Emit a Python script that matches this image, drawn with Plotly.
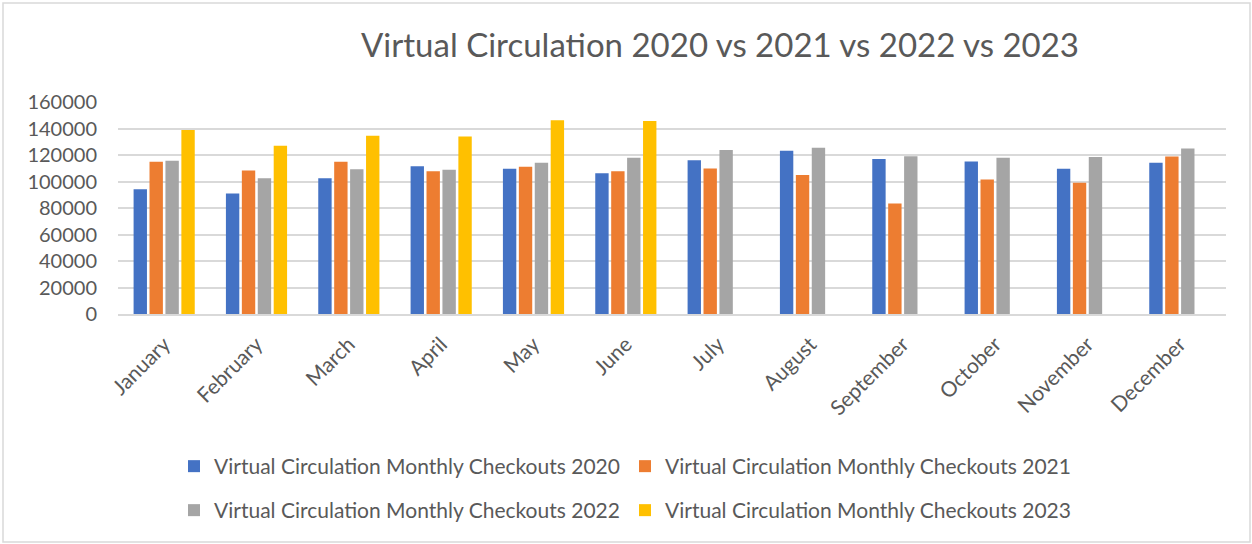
import plotly.graph_objects as go

months = ["January", "February", "March", "April", "May", "June", "July",
          "August", "September", "October", "November", "December"]
checkouts_2020 = [94200, 90900, 102500, 111600, 109600, 106300, 116100, 123200, 116900, 115100, 109600, 114100]
checkouts_2021 = [114900, 108300, 114900, 107800, 111100, 107800, 109800, 105000, 83400, 101500, 99000, 118900]
checkouts_2022 = [115600, 102500, 109300, 108800, 114100, 117900, 123700, 125400, 119100, 117900, 118400, 124900]
checkouts_2023 = [138800, 127000, 134500, 134000, 146300, 145600, None, None, None, None, None, None]
series_names = ["Virtual Circulation Monthly Checkouts 2020", "Virtual Circulation Monthly Checkouts 2021",
                "Virtual Circulation Monthly Checkouts 2022", "Virtual Circulation Monthly Checkouts 2023"]
colors = ["#4472C4", "#ED7D31", "#A5A5A5", "#FFC000"]
y_ticks = [0, 20000, 40000, 60000, 80000, 100000, 120000, 140000, 160000]

FONT = "Lato, Calibri, Carlito, sans-serif"
TXT = "#595959"

fig = go.Figure()
all_series = [checkouts_2020, checkouts_2021, checkouts_2022, checkouts_2023]
legends = ["legend", "legend2", "legend3", "legend4"]
for name, vals, col, lg in zip(series_names, all_series, colors, legends):
    fig.add_trace(go.Bar(x=months, y=vals, name=name, marker=dict(color=col, line=dict(width=0)),
                         legend=lg, showlegend=True))

W, H = 1252, 544
ml, mr, mt, mb = 118, 26, 102, 230
pw, ph = W - ml - mr, H - mt - mb

def px(xp):
    return (xp - ml) / pw

def py(yp):
    return (H - mb - yp) / ph

leg_common = dict(orientation="h", xanchor="left", yanchor="top", visible=True,
                  font=dict(size=21, color=TXT), itemwidth=30, bgcolor="rgba(0,0,0,0)")

fig.update_layout(
    template="none",
    showlegend=True,
    width=W, height=H,
    margin=dict(l=ml, r=mr, t=mt, b=mb, autoexpand=False),
    paper_bgcolor="white", plot_bgcolor="white",
    barmode="group", bargap=0.31, bargroupgap=0.16,
    font=dict(family=FONT, color=TXT),
    title=dict(text="Virtual Circulation 2020 vs 2021 vs 2022 vs 2023",
               font=dict(family=FONT, size=33, color=TXT),
               x=720 / W, xanchor="center", y=1 - 45 / H, yanchor="middle"),
    xaxis=dict(tickangle=-45, tickfont=dict(size=21, color=TXT), showgrid=False,
               showline=True, linecolor="#d9d9d9", linewidth=1.5, ticks="",
               ticklabelstandoff=8, automargin=False),
    yaxis=dict(range=[0, 160000], tickvals=y_ticks, tickformat="d",
               tickfont=dict(size=20, color=TXT), gridcolor="#d9d9d9", gridwidth=1.5,
               zeroline=False, showline=False, ticks="", ticklen=0, ticklabelstandoff=20,
               automargin=False),
    legend=dict(x=px(174), y=py(446), **leg_common),
    legend2=dict(x=px(625), y=py(446), **leg_common),
    legend3=dict(x=px(174), y=py(490), **leg_common),
    legend4=dict(x=px(625), y=py(490), **leg_common),
    shapes=[dict(type="rect", xref="paper", yref="paper",
                 x0=px(3), x1=px(W - 2), y0=py(H - 2), y1=py(3),
                 line=dict(color="#d9d9d9", width=1.5), fillcolor="rgba(0,0,0,0)", layer="below")],
)

fig.write_html("out.html", config={"displayModeBar": False},
               post_script="document.body.style.margin='0px';")
